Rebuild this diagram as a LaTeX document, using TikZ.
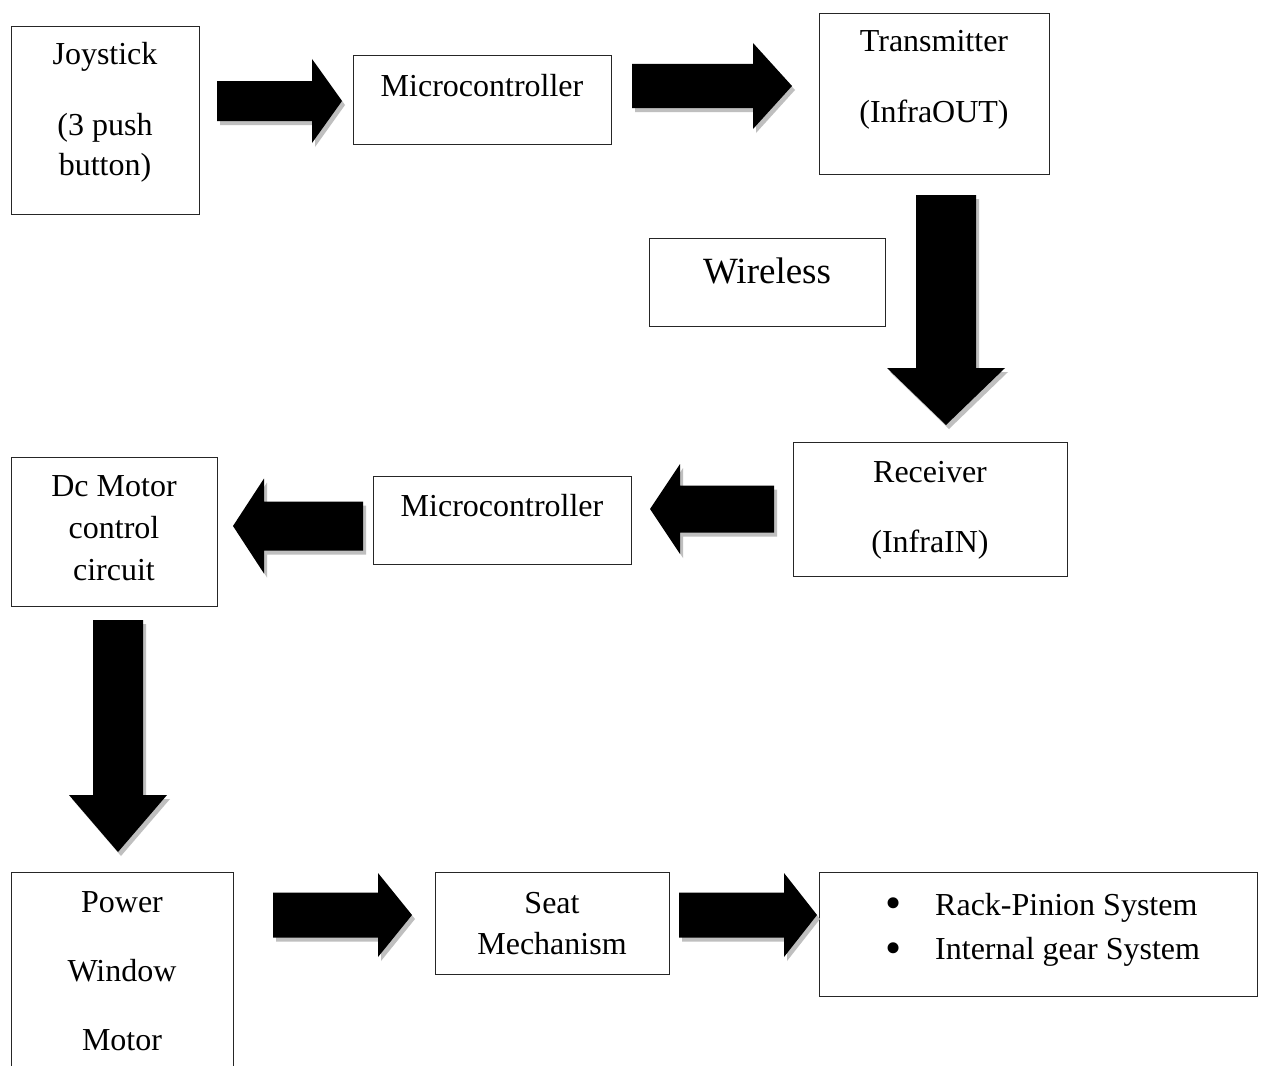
\documentclass[tikz,border=0pt]{standalone}
\usepackage{fontspec}
\setmainfont{Liberation Serif}
\newcommand\harrow[6]{% x0 x1 x2 yc s h
  \fill[arrowshadow,shift={(3,4)}] (#1,#4-#5) -- (#2,#4-#5) -- (#2,#4-#6) -- (#3,#4) -- (#2,#4+#6) -- (#2,#4+#5) -- (#1,#4+#5) -- cycle;
  \fill[black] (#1,#4-#5) -- (#2,#4-#5) -- (#2,#4-#6) -- (#3,#4) -- (#2,#4+#6) -- (#2,#4+#5) -- (#1,#4+#5) -- cycle;}
\newcommand\varrow[6]{% xc y0 y1 y2 s h
  \fill[arrowshadow,shift={(3,4)}] (#1-#5,#2) -- (#1-#5,#3) -- (#1-#6,#3) -- (#1,#4) -- (#1+#6,#3) -- (#1+#5,#3) -- (#1+#5,#2) -- cycle;
  \fill[black] (#1-#5,#2) -- (#1-#5,#3) -- (#1-#6,#3) -- (#1,#4) -- (#1+#6,#3) -- (#1+#5,#3) -- (#1+#5,#2) -- cycle;}
\begin{document}
\begin{tikzpicture}[x=1pt,y=-1pt,
  box/.style={draw=black!85,line width=1pt,fill=white,inner sep=0pt,anchor=north west},
  lbl/.style={inner sep=0pt,anchor=base,font=\fontsize{32}{38}\selectfont},
  bul/.style={inner sep=0pt,anchor=center,font=\fontsize{46}{50}\selectfont},
  arrowshadow/.style={fill=black!25}]
\clip (0,0) rectangle (1263,1065);
\fill[white] (0,0) rectangle (1263,1065);
% boxes
\node[box,minimum width=188pt,minimum height=188pt] (joy) at (11,26) {};
\node[box,minimum width=258pt,minimum height=89pt] (mc1) at (353,55) {};
\node[box,minimum width=230pt,minimum height=161pt] (tx) at (819,13) {};
\node[box,minimum width=236pt,minimum height=88pt] (wl) at (649,238) {};
\node[box,minimum width=274pt,minimum height=134pt] (rx) at (793,442) {};
\node[box,minimum width=258pt,minimum height=88pt] (mc2) at (373,476) {};
\node[box,minimum width=206pt,minimum height=149pt] (dc) at (11,457) {};
\node[box,minimum width=222pt,minimum height=220pt] (pw) at (11,872) {};
\node[box,minimum width=234pt,minimum height=102pt] (seat) at (435,872) {};
\node[box,minimum width=438pt,minimum height=124pt] (rack) at (819,872) {};
% texts
\node[lbl] (t1) at (105,65) {Joystick};
\node[lbl] (t2) at (105,135) {(3 push};
\node[lbl] (t3) at (105,175) {button)};
\node[lbl] (t4) at (482,96) {Microcontroller};
\node[lbl] (t5) at (934,52) {Transmitter};
\node[lbl] (t6) at (934,122) {(InfraOUT)};
\node[lbl,font=\fontsize{37}{44}\selectfont] (t7) at (767,283) {Wireless};
\node[lbl] (t8) at (930,482) {Receiver};
\node[lbl] (t9) at (930,552) {(InfraIN)};
\node[lbl] (t10) at (502,516) {Microcontroller};
\node[lbl] (t11) at (114,496) {Dc Motor};
\node[lbl] (t12) at (114,538) {control};
\node[lbl] (t13) at (114,580) {circuit};
\node[lbl] (t14) at (122,912) {Power};
\node[lbl] (t15) at (122,981) {Window};
\node[lbl] (t16) at (122,1050) {Motor};
\node[lbl] (t17) at (552,913) {Seat};
\node[lbl] (t18) at (552,954) {Mechanism};
\node[bul] (b1) at (894,908) {•};
\node[lbl,anchor=base west] (t19) at (935,915) {Rack-Pinion System};
\node[bul] (b2) at (894,953) {•};
\node[lbl,anchor=base west] (t20) at (935,959) {Internal gear System};
% block arrows
\harrow{217}{312}{342}{101}{20}{42}
\harrow{632}{753}{792}{86}{22}{43}
\varrow{946}{195}{368}{425}{30}{59}
\harrow{774}{680}{650}{509}{23.5}{45}
\harrow{363}{264}{233}{526}{24.5}{47.5}
\varrow{118}{620}{795}{852}{25}{49}
\harrow{273}{378}{412}{915}{22.5}{42}
\harrow{679}{784}{817}{915}{22.5}{42}
\end{tikzpicture}
\end{document}
